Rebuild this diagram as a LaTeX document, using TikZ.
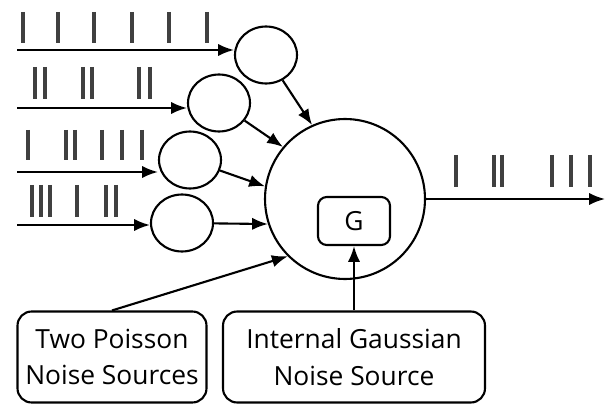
\documentclass[tikz,border=0pt]{standalone}
\usepackage{fontspec}
\setmainfont{Open Sans}
\usetikzlibrary{arrows.meta,shapes.geometric}
\begin{document}
\begin{tikzpicture}[x=0.02cm,y=-0.02cm,line width=1.2pt,
  arr/.style={-{Latex[length=9pt,width=7pt]}},
  spike/.style={line width=1.8pt,black!75},
  syn/.style={draw,ellipse,minimum width=1.24cm,minimum height=1.14cm,inner sep=0pt},
  srcbox/.style={draw,rounded corners=8pt,align=center,minimum height=1.82cm,font=\fontsize{15}{21}\selectfont}]
\useasboundingbox (0,0) rectangle (605,405);
% input spike trains
\foreach \x in {23,58,94,132,169,207} \draw[spike] (\x,12) -- (\x,43);
\foreach \x in {35,45,83,92,139,150} \draw[spike] (\x,67) -- (\x,99);
\foreach \x in {28,66,75,102,122,142} \draw[spike] (\x,130) -- (\x,160);
\foreach \x in {32,41,50,77,106,116} \draw[spike] (\x,185) -- (\x,217);
% synapses and neuron
\node[syn] (c1) at (266,55) {};
\node[syn] (c2) at (219,103) {};
\node[syn] (c3) at (190,160) {};
\node[syn] (c4) at (182,223) {};
\node[draw,circle,minimum size=3.2cm,inner sep=0pt] (soma) at (345,199) {};
\node[draw,rounded corners=5pt,minimum width=1.44cm,minimum height=0.96cm,font=\fontsize{15}{21}\selectfont] (g) at (354,221) {G};
\node[srcbox,minimum width=3.78cm] (poisson) at (112,357) {Two Poisson\\Noise Sources};
\node[srcbox,minimum width=5.24cm] (gauss) at (354,357) {Internal Gaussian\\Noise Source};
\coordinate (l1) at (17,50);
\coordinate (l2) at (17,108);
\coordinate (l3) at (17,172);
\coordinate (l4) at (17,225);
\coordinate (out) at (605,199);
% connections
\draw[arr] (l1) -- (l1 -| c1.west);
\draw[arr] (l2) -- (l2 -| c2.west);
\draw[arr] (l3) -- (l3 -| c3.west);
\draw[arr] (l4) -- (l4 -| c4.west);
\draw[arr] (c1) -- (soma.114);
\draw[arr] (c2) -- (soma.140);
\draw[arr] (c3) -- (soma.171);
\draw[arr] (c4) -- (soma.198);
\draw[arr] (poisson.north) -- (soma.225);
\draw[arr] (gauss.north) -- (g.south);
\draw[arr] (soma.east) -- (out);
% output spike train
\foreach \x in {456,494,502,552,571,590} \draw[spike] (\x,155) -- (\x,187);
\end{tikzpicture}
\end{document}
